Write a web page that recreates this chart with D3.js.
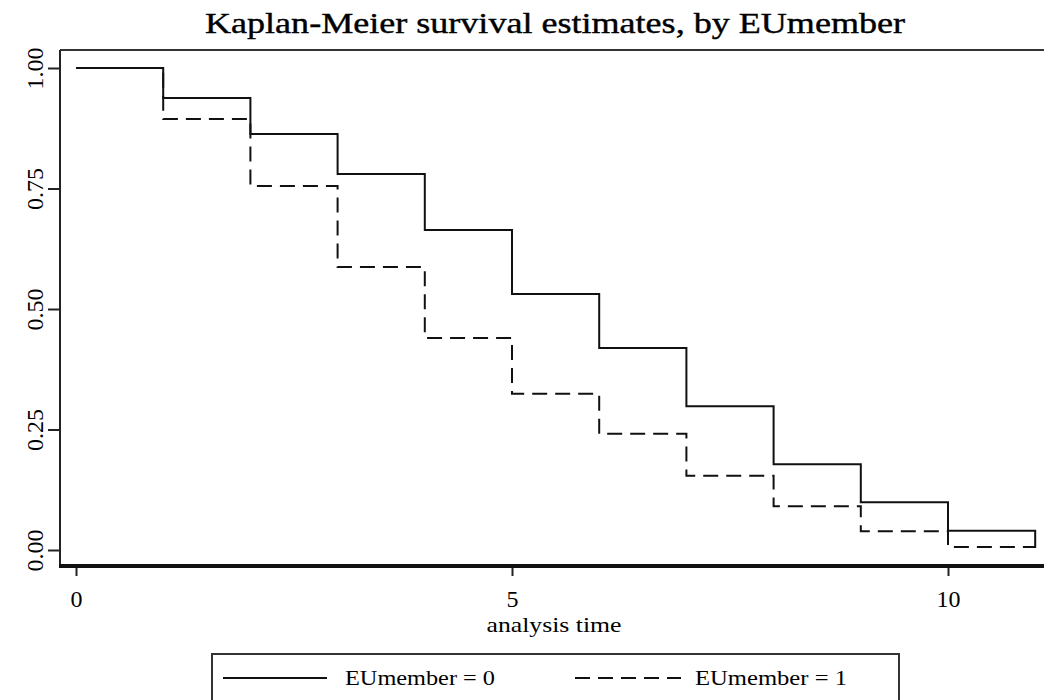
<!DOCTYPE html>
<html>
<head>
<meta charset="utf-8">
<script src="https://cdn.jsdelivr.net/npm/d3@7"></script>
<style>
  html, body { margin: 0; padding: 0; background: #fff; }
  svg { display: block; }
  svg text { font-family: "Times New Roman", "Liberation Serif", Times, serif; fill: #000; }
</style>
</head>
<body>
<svg id="chart" width="1044" height="700"></svg>
<script>
// ---- data ----
const times = [0, 1, 2, 3, 4, 5, 6, 7, 8, 9, 10, 11];
const survEU0 = [1.00, 0.938, 0.863, 0.780, 0.664, 0.531, 0.419, 0.298, 0.178, 0.099, 0.040, 0.004];
const survEU1 = [1.00, 0.894, 0.755, 0.587, 0.440, 0.324, 0.241, 0.154, 0.091, 0.039, 0.006, 0.006];
const xTicks = [0, 5, 10];
const yTicks = [0, 0.25, 0.5, 0.75, 1];
const yTickLabels = ["0.00", "0.25", "0.50", "0.75", "1.00"];
const seriesNames = ["EUmember = 0", "EUmember = 1"];
const titleText = "Kaplan-Meier survival estimates, by EUmember";
const xTitle = "analysis time";

// ---- layout ----
const svg = d3.select("#chart");
const W = 1044;
const plotLeft = 60, plotTop = 50, plotBottom = 566;
const x = d3.scaleLinear().domain([0, 10]).range([76, 948]);
const y = d3.scaleLinear().domain([0, 1]).range([550, 68]);
const serif = "'Times New Roman', 'Liberation Serif', Times, serif";

// title
svg.append("text")
  .attr("x", 555).attr("y", 33)
  .attr("text-anchor", "middle")
  .attr("font-size", 30)
  .attr("stroke", "#000").attr("stroke-width", 0.4)
  .attr("textLength", 700).attr("lengthAdjust", "spacingAndGlyphs")
  .text(titleText);

// frame: top and left lines
svg.append("line").attr("x1", plotLeft).attr("x2", W).attr("y1", plotTop).attr("y2", plotTop)
  .attr("stroke", "#333").attr("stroke-width", 2);
svg.append("line").attr("x1", plotLeft).attr("x2", plotLeft).attr("y1", plotTop).attr("y2", plotBottom)
  .attr("stroke", "#222").attr("stroke-width", 2);

// y axis ticks
const yAxis = d3.axisLeft(y).tickValues(yTicks).tickSize(12)
  .tickFormat((d, i) => yTickLabels[i]);
const gy = svg.append("g").attr("transform", `translate(${plotLeft},0)`).call(yAxis);
gy.attr("font-family", serif);
gy.select(".domain").remove();
gy.selectAll(".tick line").attr("stroke", "#222").attr("stroke-width", 2);
gy.selectAll(".tick text")
  .attr("x", null).attr("dy", null)
  .attr("transform", "translate(-25,0) rotate(-90)")
  .attr("text-anchor", "middle")
  .attr("dominant-baseline", "central")
  .attr("font-size", 24)
  .attr("fill", "#000");

// x axis
const xAxis = d3.axisBottom(x).tickValues(xTicks).tickSize(10).tickFormat(d3.format("d"));
const gx = svg.append("g").attr("transform", `translate(0,${plotBottom})`).call(xAxis);
gx.attr("font-family", serif);
gx.select(".domain").remove();
gx.selectAll(".tick line").attr("stroke", "#222").attr("stroke-width", 2);
gx.selectAll(".tick text")
  .attr("y", 41).attr("dy", null)
  .attr("font-size", 24)
  .attr("fill", "#000");
svg.append("line").attr("x1", plotLeft - 1).attr("x2", W).attr("y1", plotBottom).attr("y2", plotBottom)
  .attr("stroke", "#111").attr("stroke-width", 4);

svg.append("text")
  .attr("x", 554).attr("y", 632)
  .attr("text-anchor", "middle")
  .attr("font-size", 22)
  .attr("textLength", 135).attr("lengthAdjust", "spacingAndGlyphs")
  .text(xTitle);

// survival step curves
function stepData(vals) {
  return times.map((t, i) => ({ t: t, s: vals[i] }));
}
const line = d3.line().x(d => x(d.t)).y(d => y(d.s)).curve(d3.curveStepAfter);

svg.append("path").datum(stepData(survEU1))
  .attr("d", line).attr("fill", "none")
  .attr("stroke", "#111").attr("stroke-width", 2)
  .attr("stroke-dasharray", "15,8");
svg.append("path").datum(stepData(survEU0))
  .attr("d", line).attr("fill", "none")
  .attr("stroke", "#111").attr("stroke-width", 2);

// legend
const lg = svg.append("g");
lg.append("rect").attr("x", 212).attr("y", 654).attr("width", 687).attr("height", 60)
  .attr("fill", "#fff").attr("stroke", "#333").attr("stroke-width", 2);
lg.append("line").attr("x1", 223).attr("x2", 327).attr("y1", 678).attr("y2", 678)
  .attr("stroke", "#111").attr("stroke-width", 2);
lg.append("text").attr("x", 345).attr("y", 685).attr("font-size", 20)
  .attr("textLength", 150).attr("lengthAdjust", "spacingAndGlyphs")
  .text(seriesNames[0]);
lg.append("line").attr("x1", 575).attr("x2", 681).attr("y1", 678).attr("y2", 678)
  .attr("stroke", "#111").attr("stroke-width", 2).attr("stroke-dasharray", "15,8");
lg.append("text").attr("x", 695).attr("y", 685).attr("font-size", 20)
  .attr("textLength", 152).attr("lengthAdjust", "spacingAndGlyphs")
  .text(seriesNames[1]);
</script>
</body>
</html>
